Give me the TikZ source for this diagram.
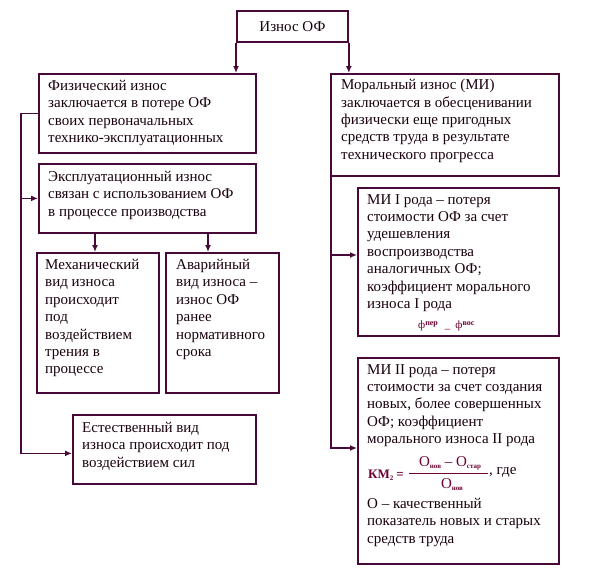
\documentclass[tikz,border=0pt]{standalone}
\usepackage{fontspec}
\setmainfont{Liberation Serif}
\usetikzlibrary{arrows.meta,calc}
\definecolor{lc}{RGB}{72,8,56}
\definecolor{fc}{RGB}{110,0,50}
\definecolor{tc}{RGB}{25,0,15}
\begin{document}
\begin{tikzpicture}[x=1pt,y=-1pt,
  box/.style={draw=lc, line width=1.8pt, rectangle, inner sep=0pt, anchor=north west},
  txt/.style={anchor=north west, inner sep=0pt, align=left, text=tc,
    font=\fontsize{15}{17.4}\selectfont, execute at begin node=\strut},
  conn/.style={draw=lc, line width=1.8pt},
  arr/.style={conn, -{Latex[length=7pt,width=6pt]}},
  frm/.style={inner sep=0pt, text=fc, font=\fontsize{15}{17}\selectfont}]
\useasboundingbox[fill=white] (0,0) rectangle (590,571);

% boxes
\node[box, minimum width=111pt, minimum height=31pt] (top) at (236,10) {};
\node[box, minimum width=217pt, minimum height=79pt] (phys) at (38,73) {};
\node[box, minimum width=217pt, minimum height=69pt] (expl) at (38,163) {};
\node[box, minimum width=122pt, minimum height=140pt] (mech) at (36,252) {};
\node[box, minimum width=113pt, minimum height=140pt] (avar) at (165,252) {};
\node[box, minimum width=183pt, minimum height=69pt] (nat) at (72,414) {};
\node[box, minimum width=228pt, minimum height=102pt] (moral) at (330,73) {};
\node[box, minimum width=201pt, minimum height=148pt] (mi1) at (357,187) {};
\node[box, minimum width=201pt, minimum height=206pt] (mi2) at (357,357) {};

% texts
\node[inner sep=0pt, text=tc, font=\fontsize{15}{17.4}\selectfont] (toptxt) at (top.center) {Износ ОФ};
\node[txt] (physt) at (48,80) {Физический износ\\заключается в потере ОФ\\своих первоначальных\\технико-эксплуатационных};
\node[txt] (explt) at (48,171) {Эксплуатационный износ\\связан с использованием ОФ\\в процессе производства};
\node[txt] (mecht) at (45,259) {Механический\\вид износа\\происходит\\под\\воздействием\\трения в\\процессе};
\node[txt] (avart) at (176,259) {Аварийный\\вид износа –\\износ ОФ\\ранее\\нормативного\\срока};
\node[txt] (natt) at (82,422) {Естественный вид\\износа происходит под\\воздействием сил};
\node[txt] (moralt) at (341,79) {Моральный износ (МИ)\\заключается в обесценивании\\физически еще пригодных\\средств труда в результате\\технического прогресса};
\node[txt] (mi1t) at (367,194) {МИ I рода – потеря\\стоимости ОФ за счет\\удешевления\\воспроизводства\\аналогичных ОФ;\\коэффициент морального\\износа I рода};
\node[txt] (mi2t) at (367,364) {МИ II рода – потеря\\стоимости за счет создания\\новых, более совершенных\\ОФ; коэффициент\\морального износа II рода};
\node[txt] (mi2b) at (367,498) {О – качественный\\показатель новых и старых\\средств труда};

% formula MI I
\node[frm, anchor=base west, font=\fontsize{11}{11}\selectfont] (f1) at (418,328)
  {ф\raisebox{3pt}{\fontsize{8}{8}\selectfont\bfseries пер}\hspace{7pt}\_\hspace{5pt}ф\raisebox{3pt}{\fontsize{8}{8}\selectfont\bfseries вос}};

% formula MI II
\node[frm, anchor=base west, font=\fontsize{13}{15}\bfseries] (km) at (368,478) {КМ\raisebox{-2pt}{\fontsize{7}{7}\selectfont 2}\hspace{3pt}=};
\node[frm, anchor=base] (num) at (450,466) {О\raisebox{-2pt}{\fontsize{7}{7}\selectfont\bfseries нов} – О\raisebox{-2pt}{\fontsize{7}{7}\selectfont\bfseries стар}};
\node[frm, anchor=base] (den) at (452,488) {О\raisebox{-2pt}{\fontsize{7}{7}\selectfont\bfseries нов}};
\draw[fc, line width=1pt] (409,473) -- (488,473);
\node[inner sep=0pt, text=tc, font=\fontsize{15}{17}\selectfont, anchor=base west] (gde) at (489,474) {, где};

% connectors
\draw[arr] (top.south west) -- (top.south west |- phys.north);
\draw[arr] (top.south east) -- (top.south east |- moral.north);

\coordinate (lx) at (21,0);
\coordinate (natin) at ($(nat.west)+(0,4)$);
\draw[arr] (phys.west) -- (phys.west -| lx) |- (natin);
\draw[arr] (lx |- expl.west) -- (expl.west);

\coordinate (d1) at (95,0);
\coordinate (d2) at (208,0);
\draw[arr] (d1 |- expl.south) -- (d1 |- mech.north);
\draw[arr] (d2 |- expl.south) -- (d2 |- avar.north);

\coordinate (rx) at (331,0);
\coordinate (mi1in) at ($(mi1.north west)+(0,68)$);
\coordinate (mi2in) at ($(mi2.north west)+(0,91)$);
\draw[arr] (rx |- moral.south) |- (mi2in);
\draw[arr] (rx |- mi1in) -- (mi1in);
\end{tikzpicture}
\end{document}
